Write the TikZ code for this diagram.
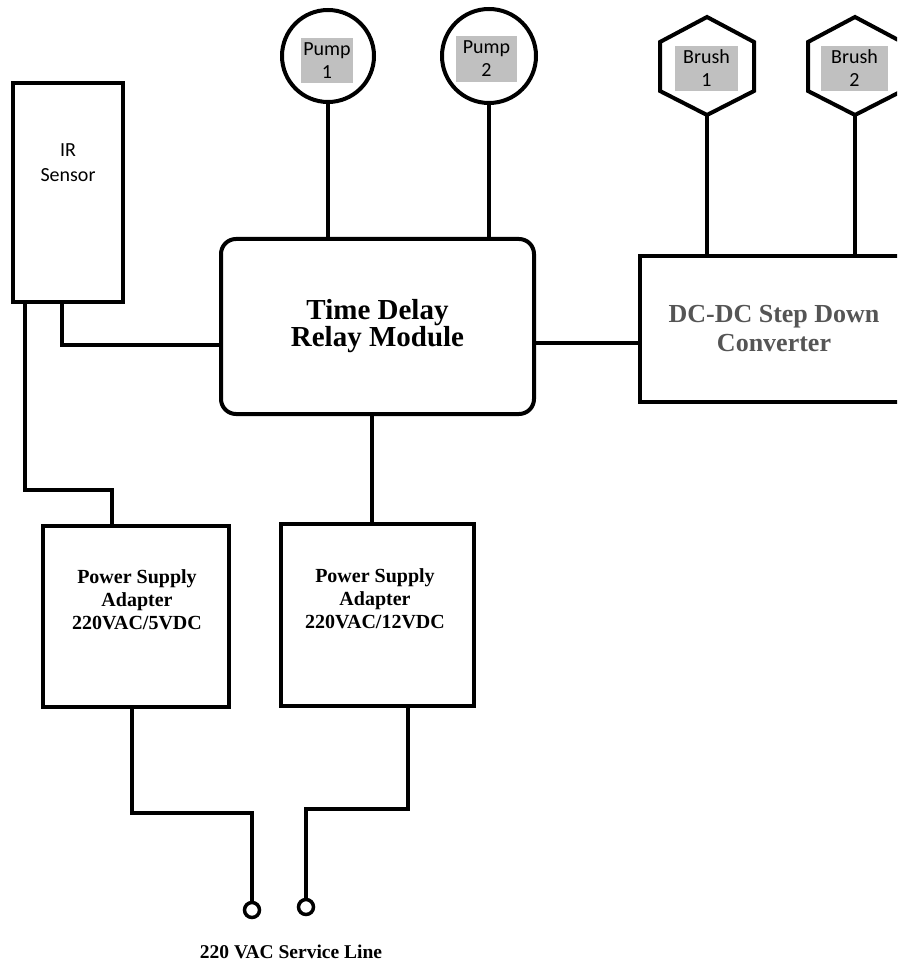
\documentclass[tikz,border=0pt]{standalone}
\usepackage{fontspec}
\setmainfont{Liberation Serif}
\newfontfamily\calfont{Carlito}
\definecolor{lblgray}{RGB}{192,192,192}
\definecolor{dctext}{RGB}{85,85,85}
\begin{document}
\begin{tikzpicture}[x=1pt,y=-1pt,line width=4pt,
  box/.style={draw,rectangle,inner sep=0pt,line width=4pt},
  ring/.style={draw,circle,inner sep=0pt,line width=4pt},
  lbl/.style={fill=lblgray,inner sep=0pt,align=center,font=\calfont\fontsize{20}{23}\selectfont},
  bigbold/.style={align=center,font=\bfseries\fontsize{29}{27}\selectfont},
  psbold/.style={align=center,font=\bfseries\fontsize{20}{23}\selectfont},
  wire/.style={draw,line width=4pt}]
\useasboundingbox (0,0) rectangle (897,965);
\clip (0,0) rectangle (897,965);

% IR sensor
\node[box,minimum width=110pt,minimum height=219pt] (ir) at (68,192.5) {};
\node[align=center,font=\calfont\fontsize{20}{25}\selectfont] (irt) at (68,163) {IR\\Sensor};

% Time delay relay module
\node[box,rounded corners=15pt,minimum width=313pt,minimum height=175pt,bigbold] (tdr) at (377.5,326.5) {Time Delay\\Relay Module};

% DC-DC converter
\node[box,minimum width=268pt,minimum height=146pt,align=center,text=dctext,font=\bfseries\fontsize{26}{29}\selectfont] (dc) at (774,329) {DC-DC Step Down\\Converter};

% Power supplies
\node[box,minimum width=186pt,minimum height=181pt] (ps1) at (136,616.5) {};
\node[psbold] (ps1t) at (137,600) {Power Supply\\Adapter\\220VAC/5VDC};
\node[box,minimum width=193pt,minimum height=182pt] (ps2) at (377.5,615) {};
\node[psbold] (ps2t) at (375,599) {Power Supply\\Adapter\\220VAC/12VDC};

% Pumps
\node[ring,minimum size=92pt] (p1) at (328,56) {};
\node[lbl,minimum width=52pt,minimum height=45pt] (p1t) at (327,60.5) {Pump\\1};
\node[ring,minimum size=94pt] (p2) at (489,56) {};
\node[lbl,minimum width=61pt,minimum height=46pt] (p2t) at (486.5,59) {Pump\\2};

% Brushes
\draw[line join=miter] (707,17) -- (754,42) -- (754,91) -- (707,115) -- (660,91) -- (660,42) -- cycle;
\coordinate (b1bot) at (707,115);
\node[lbl,minimum width=63pt,minimum height=45pt] (b1t) at (706.5,68.5) {Brush\\1};
\draw[line join=miter] (855,17) -- (902,42) -- (902,91) -- (855,115) -- (808,91) -- (808,42) -- cycle;
\coordinate (b2bot) at (855,115);
\node[lbl,minimum width=67pt,minimum height=45pt] (b2t) at (854.5,68.5) {Brush\\2};

% Terminals
\node[ring,minimum size=15pt,line width=3.5pt] (t1) at (252,910) {};
\node[ring,minimum size=15pt,line width=3.5pt] (t2) at (306,907) {};
\node[anchor=base,font=\bfseries\fontsize{19.5}{22}\selectfont] (svc) at (291,958) {220 VAC Service Line};

% Connectors
\draw[wire] (p1.south) -- (p1.south |- tdr.north);
\draw[wire] (p2.south) -- (p2.south |- tdr.north);
\draw[wire] (b1bot) -- (b1bot |- dc.north);
\draw[wire] (b2bot) -- (b2bot |- dc.north);
\draw[wire] ([yshift=-16.5pt]tdr.east) -- ([yshift=-16.5pt]tdr.east -| dc.west);
\draw[wire] ([xshift=51pt]ir.south west) |- ([yshift=-18.5pt]tdr.west);
\draw[wire] ([xshift=14pt]ir.south west) -- ++(0,186) -| ([xshift=71pt]ps1.north west);
\draw[wire] ([xshift=-5.5pt]tdr.south) -- ([xshift=-5.5pt]tdr.south |- ps2.north);
\draw[wire] ([xshift=-4pt]ps1.south) -- ++(0,104) -| (t1.north);
\draw[wire] ([xshift=30.5pt]ps2.south) -- ++(0,101) -| (t2.north);
\end{tikzpicture}
\end{document}
